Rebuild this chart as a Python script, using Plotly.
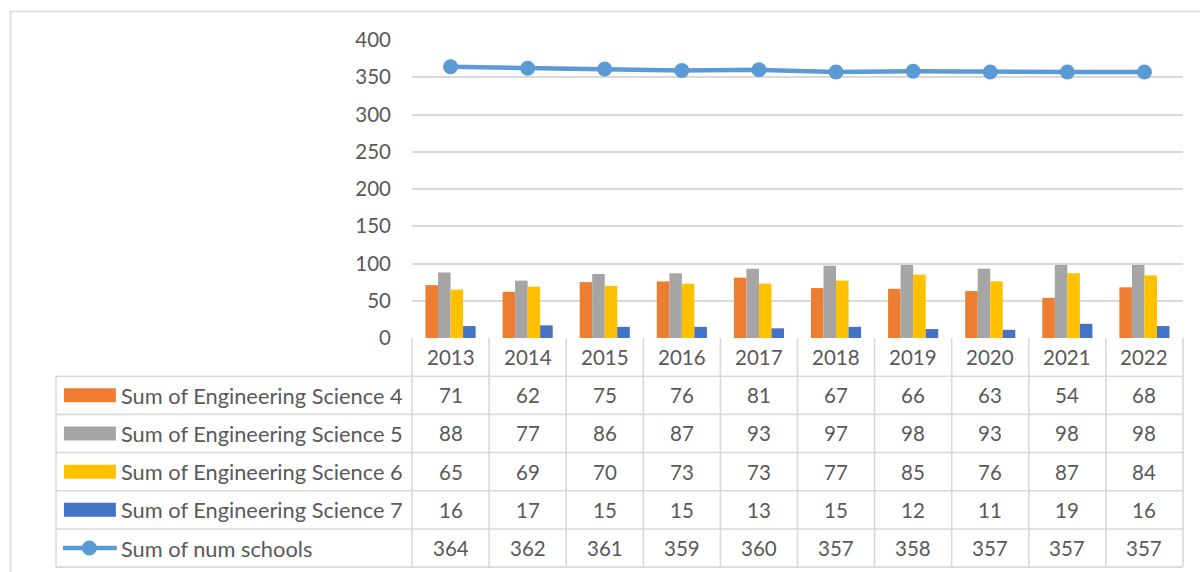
import plotly.graph_objects as go

# ---- data ----
years = ["2013", "2014", "2015", "2016", "2017", "2018", "2019", "2020", "2021", "2022"]
eng_sci_4 = [71, 62, 75, 76, 81, 67, 66, 63, 54, 68]
eng_sci_5 = [88, 77, 86, 87, 93, 97, 98, 93, 98, 98]
eng_sci_6 = [65, 69, 70, 73, 73, 77, 85, 76, 87, 84]
eng_sci_7 = [16, 17, 15, 15, 13, 15, 12, 11, 19, 16]
num_schools = [364, 362, 361, 359, 360, 357, 358, 357, 357, 357]

bar_names = [
    "Sum of Engineering Science 4",
    "Sum of Engineering Science 5",
    "Sum of Engineering Science 6",
    "Sum of Engineering Science 7",
]
line_name = "Sum of num schools"
y_ticks = [0, 50, 100, 150, 200, 250, 300, 350, 400]

# ---- styling ----
bar_colors = ["#ED7D31", "#A5A5A5", "#FFC000", "#4472C4"]
line_color = "#5B9BD5"
grid_color = "#D9D9D9"
text_color = "#595959"
FONT = "Lato, Calibri, sans-serif"
FS_NUM = 20.5
FS_NAME = 21.8

W, H = 1200, 572
L, R, T, B = 411.5, 1183.5, 39.5, 338.0   # plot area in pixels
ROW_H = 38.25                             # data-table row height
TABLE_LEFT = 55.0


def px_x(px):
    return (px - L) / (R - L)


def px_y(py):
    return (B - py) / (B - T)


fig = go.Figure()

bar_series = [eng_sci_4, eng_sci_5, eng_sci_6, eng_sci_7]
for name, vals, col in zip(bar_names, bar_series, bar_colors):
    fig.add_trace(go.Bar(x=years, y=vals, name=name, marker_color=col,
                         marker_line_width=0))

fig.add_trace(go.Scatter(x=years, y=num_schools, name=line_name,
                         mode="lines+markers",
                         line=dict(color=line_color, width=4.5),
                         marker=dict(color=line_color, size=15)))

shapes = []
annotations = []
line_style = dict(color=grid_color, width=1.6)

# chart-area frame
shapes.append(dict(type="rect", xref="paper", yref="paper",
                   x0=px_x(9.5), x1=px_x(1215), y0=px_y(11), y1=px_y(590),
                   line=dict(color=grid_color, width=1.6), layer="below"))

n = len(years)
cw = (R - L) / n
table_bottom = B + ROW_H * (len(bar_names) + 2)

# horizontal rules of the data table
for k in range(1, len(bar_names) + 3):
    yy = B + k * ROW_H
    shapes.append(dict(type="line", xref="paper", yref="paper",
                       x0=px_x(TABLE_LEFT), x1=px_x(R), y0=px_y(yy), y1=px_y(yy),
                       line=line_style))
# vertical rules at category boundaries
for i in range(n + 1):
    xx = L + i * cw
    shapes.append(dict(type="line", xref="paper", yref="paper",
                       x0=px_x(xx), x1=px_x(xx), y0=px_y(B), y1=px_y(table_bottom),
                       line=line_style))
# left edge of legend column
shapes.append(dict(type="line", xref="paper", yref="paper",
                   x0=px_x(TABLE_LEFT), x1=px_x(TABLE_LEFT),
                   y0=px_y(B + ROW_H), y1=px_y(table_bottom), line=line_style))

num_font = dict(family=FONT, size=FS_NUM, color=text_color)
name_font = dict(family=FONT, size=FS_NAME, color=text_color)

# header row: category labels
for i, yr in enumerate(years):
    annotations.append(dict(xref="paper", yref="paper", x=(i + 0.5) / n,
                            y=px_y(B + ROW_H / 2), text=yr, showarrow=False,
                            xanchor="center", yanchor="middle", font=num_font))

# body rows: legend key, series name, values
rows = list(zip(bar_names, bar_series, bar_colors)) + [(line_name, num_schools, None)]
for r, (name, vals, col) in enumerate(rows):
    cy = B + ROW_H * (r + 1.5)
    if col is not None:
        shapes.append(dict(type="rect", xref="paper", yref="paper",
                           x0=px_x(63), x1=px_x(115), y0=px_y(cy - 7), y1=px_y(cy + 7),
                           fillcolor=col, line=dict(width=0)))
    else:
        shapes.append(dict(type="line", xref="paper", yref="paper",
                           x0=px_x(62), x1=px_x(116), y0=px_y(cy), y1=px_y(cy),
                           line=dict(color=line_color, width=4.5)))
        shapes.append(dict(type="circle", xref="paper", yref="paper",
                           x0=px_x(81), x1=px_x(96), y0=px_y(cy - 7.5), y1=px_y(cy + 7.5),
                           fillcolor=line_color, line=dict(width=0)))
    annotations.append(dict(xref="paper", yref="paper", x=px_x(118), y=px_y(cy),
                            text=name, showarrow=False, xanchor="left",
                            yanchor="middle", font=name_font))
    for i, v in enumerate(vals):
        annotations.append(dict(xref="paper", yref="paper", x=(i + 0.5) / n,
                                y=px_y(cy), text=str(v), showarrow=False,
                                xanchor="center", yanchor="middle", font=num_font))

fig.update_layout(
    width=W, height=H,
    margin=dict(l=L, r=W - R, t=T, b=H - B, pad=0),
    paper_bgcolor="white", plot_bgcolor="white",
    barmode="group", bargap=0.35, bargroupgap=0,
    showlegend=False,
    shapes=shapes, annotations=annotations,
    font=num_font,
    xaxis=dict(type="category", range=[-0.5, n - 0.5], showticklabels=False,
               showgrid=False, showline=False, zeroline=False, ticks=""),
    yaxis=dict(range=[0, 400], tickvals=y_ticks, showgrid=True,
               gridcolor=grid_color, gridwidth=1.6, zeroline=False,
               showline=False, ticks="", ticklabelstandoff=20,
               tickfont=num_font),
)

fig.write_html("out.html")
